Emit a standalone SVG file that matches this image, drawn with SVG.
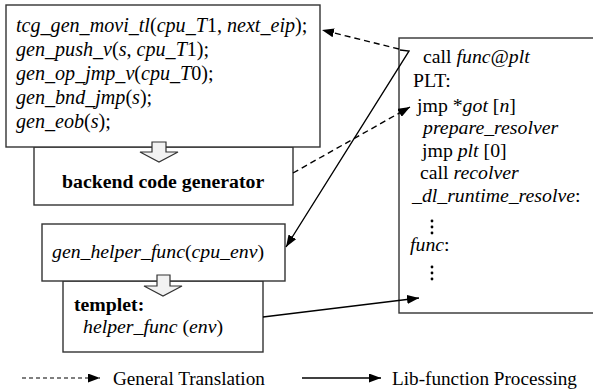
<svg xmlns="http://www.w3.org/2000/svg" width="593" height="390" viewBox="0 0 593 390" font-family="Liberation Serif, Times New Roman, serif" font-size="19.8">
  <style>
    text { fill: #000; }
    .i { font-style: italic; }
    .b { font-weight: bold; }
    .box { fill: #fff; stroke: #333; stroke-width: 1.4; }
    .block { fill: #f2f2f2; stroke: #333; stroke-width: 1.2; }
    .solid { fill: none; stroke: #000; stroke-width: 1.4; }
    .dash { fill: none; stroke: #000; stroke-width: 1.4; stroke-dasharray: 6 4; }
  </style>
  <defs>
    <marker id="head" markerUnits="userSpaceOnUse" markerWidth="13" markerHeight="9" refX="12" refY="4.5" orient="auto">
      <path d="M0,0 L12,4.5 L0,9 Z" fill="#000"/>
    </marker>
  </defs>

  <!-- backend code generator (drawn first, top box overlaps its upper edge) -->
  <g id="backend">
    <rect class="box" x="34" y="147" width="259" height="58"/>
    <text class="b" x="62" y="188">backend code generator</text>
  </g>

  <!-- translated guest instructions -->
  <g id="tcg-code" font-size="20.1">
    <rect class="box" x="6" y="5" width="314" height="142"/>
    <text x="16" y="32"><tspan class="i">tcg_gen_movi_tl</tspan>(<tspan class="i">cpu_T</tspan>1, <tspan class="i">next_eip</tspan>);</text>
    <text x="16" y="56"><tspan class="i">gen_push_v</tspan>(<tspan class="i">s</tspan>, <tspan class="i">cpu_T</tspan>1);</text>
    <text x="16" y="80"><tspan class="i">gen_op_jmp_v</tspan>(<tspan class="i">cpu_T</tspan>0);</text>
    <text x="16" y="104"><tspan class="i">gen_bnd_jmp</tspan>(<tspan class="i">s</tspan>);</text>
    <text x="16" y="128"><tspan class="i">gen_eob</tspan>(<tspan class="i">s</tspan>);</text>
  </g>

  <!-- hollow block arrow: code -> backend -->
  <g id="block-arrow-1">
    <path class="block" d="M152,142 L166,142 L166,152 L178,152 L159,162 L140,152 L152,152 Z"/>
  </g>

  <!-- templet box (below helper call box) -->
  <g id="templet">
    <rect class="box" x="63" y="281" width="200" height="71"/>
    <text class="b" x="74" y="311">templet:</text>
    <text x="83" y="333"><tspan class="i">helper_func</tspan> (<tspan class="i">env</tspan>)</text>
  </g>

  <!-- helper call -->
  <g id="helper-call">
    <rect class="box" x="42" y="224" width="243" height="57"/>
    <text x="52" y="258"><tspan class="i">gen_helper_func</tspan>(<tspan class="i">cpu_env</tspan>)</text>
  </g>

  <!-- hollow block arrow: helper call -> templet -->
  <g id="block-arrow-2">
    <path class="block" d="M157,275 L170,275 L170,286 L182,286 L163,296 L144,286 L157,286 Z"/>
  </g>

  <!-- guest binary with PLT stub -->
  <g id="plt">
    <rect class="box" x="399" y="38" width="200" height="275"/>
    <text x="423" y="63">call  <tspan class="i">func@plt</tspan></text>
    <text x="413" y="87">PLT:</text>
    <text x="417" y="112">jmp *<tspan class="i">got</tspan> [<tspan class="i">n</tspan>]</text>
    <text class="i" x="423" y="134">prepare_resolver</text>
    <text x="422" y="157">jmp <tspan class="i">plt</tspan> [0]</text>
    <text x="420" y="179">call <tspan class="i">recolver</tspan></text>
    <text x="412" y="202"><tspan class="i">_dl_runtime_resolve</tspan>:</text>
    <g fill="#000">
      <circle cx="432" cy="221" r="1.4"/>
      <circle cx="432" cy="227" r="1.4"/>
      <circle cx="432" cy="233" r="1.4"/>
    </g>
    <text x="410" y="251"><tspan class="i">func</tspan>:</text>
    <g fill="#000">
      <circle cx="432" cy="267" r="1.4"/>
      <circle cx="432" cy="273" r="1.4"/>
      <circle cx="432" cy="279" r="1.4"/>
    </g>
  </g>

  <!-- connectors -->
  <g id="connectors">
    <line class="dash" x1="399" y1="49" x2="322" y2="30" marker-end="url(#head)"/>
    <line class="dash" x1="293" y1="173" x2="410" y2="107" marker-end="url(#head)"/>
    <polyline class="solid" points="400,50 409,51 286,247" marker-end="url(#head)"/>
    <line class="solid" x1="263" y1="317" x2="419" y2="298" marker-end="url(#head)"/>
  </g>

  <!-- legend -->
  <g id="legend" font-size="19.2">
    <line x1="22" y1="378" x2="100" y2="378" stroke="#000" stroke-width="1.2" stroke-dasharray="4 3" marker-end="url(#head)"/>
    <text x="113" y="385">General Translation</text>
    <line x1="302" y1="378" x2="381" y2="378" stroke="#000" stroke-width="1.4" marker-end="url(#head)"/>
    <text x="392" y="385">Lib-function Processing</text>
  </g>
</svg>
